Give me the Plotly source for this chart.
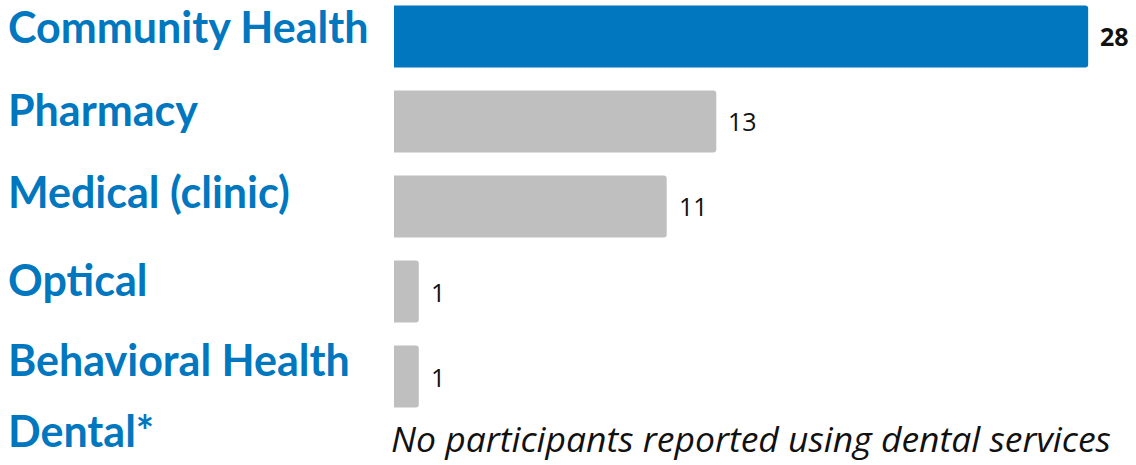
import plotly.graph_objects as go

# Services used by participants (count of participants)
categories = ["Community Health", "Pharmacy", "Medical (clinic)", "Optical",
              "Behavioral Health", "Dental*"]
counts = [28, 13, 11, 1, 1, None]
note_text = "No participants reported using dental services"

BLUE = "#0077BE"
GRAY = "#BFBFBF"

bar_colors = [BLUE if i == 0 else GRAY for i in range(len(categories))]

fig = go.Figure(
    go.Bar(
        y=categories,
        x=counts,
        orientation="h",
        marker=dict(color=bar_colors, line=dict(width=0), cornerradius=3),
        hoverinfo="skip",
    )
)

# value labels to the right of each bar
for i, (cat, val) in enumerate(zip(categories, counts)):
    if val is None:
        continue
    fig.add_annotation(
        x=val, y=cat, xref="x", yref="y",
        text=f"<b>{val}</b>" if i == 0 else str(val),
        showarrow=False, xanchor="left", yanchor="middle", xshift=10,
        font=dict(family="Open Sans", size=25, color="#111111"),
    )

# category labels on the left, in bold blue
label_shift = [10, 12, 15, 12, 17, 31]
for cat, dy in zip(categories, label_shift):
    fig.add_annotation(
        x=0.005, y=cat, xref="paper", yref="y",
        text=f"<b>{cat}</b>", showarrow=False,
        xanchor="left", yanchor="middle", yshift=dy,
        font=dict(family="Lato", size=43, color=BLUE),
    )

# note in place of the missing dental bar
fig.add_annotation(
    x=0, y=categories[-1], xref="x", yref="y",
    text=f"<i>{note_text}</i>", showarrow=False,
    xanchor="left", yanchor="middle", yshift=24, xshift=-5,
    font=dict(family="Open Sans", size=35.5, color="#111111"),
)

fig.update_layout(
    width=1136, height=465,
    margin=dict(l=0, r=0, t=0, b=0),
    paper_bgcolor="white", plot_bgcolor="white",
    bargap=0.27,
    showlegend=False,
    xaxis=dict(domain=[394 / 1136, 1], range=[0, 29.93], visible=False,
               fixedrange=True),
    yaxis=dict(type="category", categoryorder="array", categoryarray=categories,
               range=[5.041, -0.429], visible=False, fixedrange=True),
)

fig.write_html("out.html")
